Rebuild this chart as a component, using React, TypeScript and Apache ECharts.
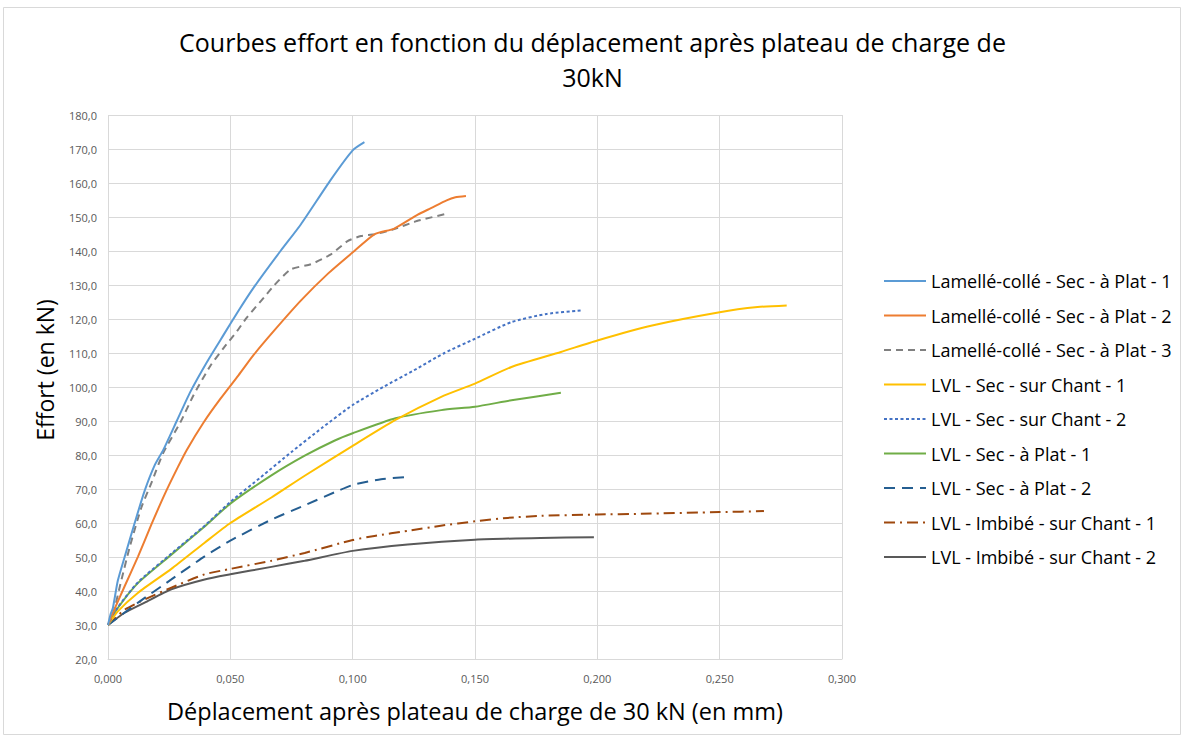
import React, { useEffect, useRef } from "react";
import * as echarts from "echarts";

const titleLine1 = "Courbes effort en fonction du déplacement après plateau de charge de";
const titleLine2 = "30kN";
const xAxisName = "Déplacement après plateau de charge de 30 kN (en mm)";
const yAxisName = "Effort (en kN)";

const seriesNames = [
  "Lamellé-collé - Sec - à Plat - 1",
  "Lamellé-collé - Sec - à Plat - 2",
  "Lamellé-collé - Sec - à Plat - 3",
  "LVL - Sec - sur Chant - 1",
  "LVL - Sec - sur Chant - 2",
  "LVL - Sec - à Plat - 1",
  "LVL - Sec - à Plat - 2",
  "LVL - Imbibé - sur Chant - 1",
  "LVL - Imbibé - sur Chant - 2",
];

const lamelle1 = [
  [0, 30], [0.001, 33], [0.002, 35], [0.004, 43], [0.0068, 50], [0.0109, 60], [0.015, 69.5],
  [0.0191, 77], [0.0226, 81.5], [0.0281, 90], [0.0336, 98.5], [0.0404, 107.3], [0.0473, 115.4],
  [0.0534, 122.5], [0.0596, 129.3], [0.0705, 140], [0.0788, 147.8], [0.0911, 161], [0.1, 169.6],
  [0.1048, 172],
];
const lamelle2 = [
  [0, 30], [0.0014, 32.6], [0.0068, 41.4], [0.0123, 50.2], [0.0177, 59.5], [0.0232, 68.5],
  [0.0286, 76.5], [0.0322, 81.5], [0.039, 89.5], [0.0459, 96.5], [0.0534, 103.5], [0.0596, 109.5],
  [0.0678, 116.5], [0.0788, 125.4], [0.0897, 133.2], [0.1007, 140], [0.1089, 144.9], [0.117, 146.6],
  [0.1266, 150.7], [0.132, 152.6], [0.1384, 154.9], [0.142, 155.8], [0.1463, 156.2],
];
const lamelle3 = [
  [0, 30], [0.002, 33], [0.0054, 43], [0.0089, 53], [0.0136, 64.5], [0.0177, 71.7], [0.0225, 80.5],
  [0.0295, 89.5], [0.0349, 97.5], [0.0418, 106.2], [0.0473, 111.5], [0.0527, 116.4], [0.0568, 120.5],
  [0.0637, 126.3], [0.0678, 129.8], [0.0747, 134.6], [0.0829, 136.1], [0.0911, 139], [0.0979, 142.9],
  [0.1034, 144.4], [0.1089, 144.9], [0.116, 146.2], [0.1262, 148.8], [0.1386, 151],
];
const lvlChant1 = [
  [0, 30], [0.004, 34], [0.0123, 39.5], [0.0259, 46.5], [0.0395, 54.2], [0.05, 60], [0.0668, 67.5],
  [0.0804, 73.9], [0.1005, 82.9], [0.1175, 90.3], [0.1362, 97.1], [0.15, 101], [0.1649, 105.9],
  [0.1851, 110.3], [0.2, 113.7], [0.2224, 118.1], [0.25, 122], [0.2655, 123.5], [0.2774, 124],
];
const lvlChant2 = [
  [0, 30], [0.004, 35.2], [0.0123, 42.6], [0.0259, 51], [0.0395, 59.2], [0.05, 66.2], [0.0625, 73.5],
  [0.075, 80.9], [0.0875, 88], [0.1, 94.7], [0.1125, 100], [0.125, 104.9], [0.1375, 110],
  [0.15, 114.2], [0.1649, 119.1], [0.1793, 121.5], [0.1937, 122.5],
];
const lvlPlat1 = [
  [0, 30], [0.004, 35], [0.0123, 42.4], [0.0259, 50.7], [0.0395, 59], [0.05, 65.7], [0.0668, 74],
  [0.0804, 79.8], [0.0925, 84.2], [0.1, 86.4], [0.1175, 90.8], [0.1362, 93.2], [0.15, 94.2],
  [0.1649, 96.1], [0.1851, 98.3],
];
const lvlPlat2 = [
  [0, 30], [0.0123, 36.6], [0.0259, 43.4], [0.0395, 50.2], [0.05, 54.8], [0.0668, 61], [0.0804, 65.2],
  [0.0925, 69], [0.1005, 71.3], [0.1116, 72.9], [0.1218, 73.5],
];
const lvlImbibe1 = [
  [0, 30], [0.0068, 34.5], [0.015, 37.5], [0.0259, 41], [0.0395, 44.9], [0.05, 46.5], [0.0668, 48.9],
  [0.0804, 51.2], [0.1, 55], [0.1089, 56.2], [0.1225, 57.7], [0.136, 59.2],
  [0.15, 60.5], [0.1633, 61.5], [0.177, 62.1], [0.2, 62.5], [0.218, 62.7], [0.25, 63.2], [0.2681, 63.5],
];
const lvlImbibe2 = [
  [0, 30], [0.0068, 33.6], [0.015, 36.6], [0.0259, 40.5], [0.0395, 43.4], [0.05, 44.9],
  [0.0668, 47.1], [0.0804, 48.9], [0.1, 51.8], [0.1225, 53.7], [0.15, 55.1], [0.1768, 55.6],
  [0.1986, 55.8],
];

const seriesData = [lamelle1, lamelle2, lamelle3, lvlChant1, lvlChant2, lvlPlat1, lvlPlat2, lvlImbibe1, lvlImbibe2];
const seriesColors = ["#5B9BD5", "#ED7D31", "#808080", "#FFC000", "#4472C4", "#70AD47", "#255E91", "#9E480E", "#595959"];
const seriesDash: (number[] | "solid")[] = [
  "solid", "solid", [7, 5], "solid", [3, 2.5], "solid", [11, 7], [11, 5, 2, 5], "solid",
];

export default function App() {
  const ref = useRef<HTMLDivElement>(null);
  useEffect(() => {
    if (!ref.current) return;
    const chart = echarts.init(ref.current, null, { renderer: "svg" });
    const font = "'Open Sans', 'Noto Sans', sans-serif";
    const titleStyle = { fontFamily: font, fontSize: 25, fontWeight: "normal", color: "#000", lineHeight: 25 };
    chart.setOption({
      animation: false,
      backgroundColor: "#ffffff",
      textStyle: { fontFamily: font },
      title: [
        { text: titleLine1, left: "center", top: 29.5, padding: 0, textStyle: titleStyle },
        { text: titleLine2, left: "center", top: 64, padding: 0, textStyle: titleStyle },
      ],
      graphic: [
        {
          type: "rect",
          shape: { x: 3.5, y: 7.5, width: 1177, height: 727 },
          style: { fill: "none", stroke: "#d9d9d9", lineWidth: 1 },
          silent: true,
        },
        {
          type: "text",
          x: 45,
          y: 370,
          rotation: Math.PI / 2,
          silent: true,
          style: {
            text: yAxisName,
            fill: "#000",
            font: "23px 'Open Sans', 'Noto Sans', sans-serif",
            align: "center",
            verticalAlign: "middle",
          },
        },
      ],
      legend: {
        orient: "vertical",
        left: 878,
        top: 267,
        itemWidth: 42,
        itemHeight: 14,
        itemGap: 16.5,
        itemStyle: { opacity: 0 },
        textStyle: { fontFamily: font, fontSize: 18, color: "#000" },
        data: seriesNames,
      },
      grid: { left: 108, right: 343, top: 115, bottom: 79 },
      xAxis: {
        type: "value",
        min: 0,
        max: 0.3,
        interval: 0.05,
        name: xAxisName,
        nameLocation: "middle",
        nameGap: 40,
        nameTextStyle: { fontFamily: font, fontSize: 23.5, color: "#000" },
        axisLine: { show: true, lineStyle: { color: "#d9d9d9" } },
        axisTick: { show: false },
        axisLabel: {
          margin: 14,
          fontSize: 11,
          color: "#595959",
          fontFamily: "'Liberation Sans Narrow', 'Open Sans', sans-serif",
          formatter: (v: number) => v.toFixed(3).replace(".", ","),
        },
        splitLine: { show: true, lineStyle: { color: "#d9d9d9", width: 1 } },
      },
      yAxis: {
        type: "value",
        min: 20,
        max: 180,
        interval: 10,
        axisLine: { show: false },
        axisTick: { show: false },
        axisLabel: {
          margin: 11,
          fontSize: 11,
          color: "#595959",
          fontFamily: "'Liberation Sans Narrow', 'Open Sans', sans-serif",
          formatter: (v: number) => v.toFixed(1).replace(".", ","),
        },
        splitLine: { show: true, lineStyle: { color: "#d9d9d9", width: 1 } },
      },
      series: seriesNames.map((name, i) => ({
        name,
        type: "line",
        data: seriesData[i],
        showSymbol: false,
        symbol: "none",
        smooth: 0.2,
        color: seriesColors[i],
        lineStyle: { width: 2, color: seriesColors[i], type: seriesDash[i], cap: "butt" },
        z: 10 - i,
      })),
    });
    return () => chart.dispose();
  }, []);
  return <div ref={ref} style={{ position: "fixed", left: 0, top: 0, width: 1185, height: 738 }} />;
}
